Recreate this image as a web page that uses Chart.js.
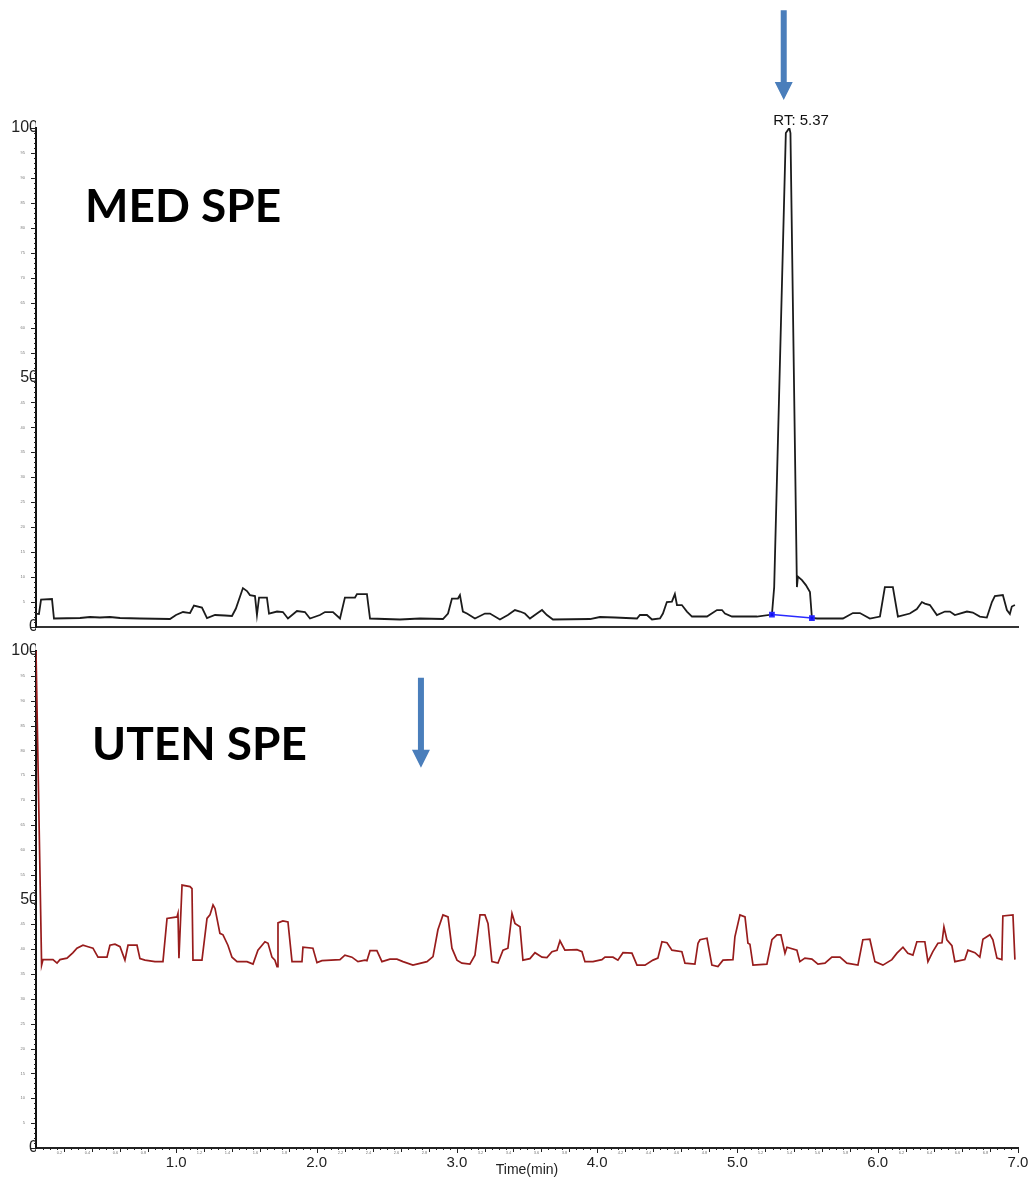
<!DOCTYPE html>
<html lang="no">
<head>
<meta charset="UTF-8">
<title>MED SPE / UTEN SPE</title>
<style>
  body { margin: 0; background: #fff; }
  #wrap { position: relative; width: 1035px; height: 1185px; }
  #med { position: absolute; left: 0; top: 0; }
  #uten { position: absolute; left: 0; top: 640px; }
</style>
</head>
<body>
<div id="wrap">
  <canvas id="med" width="1035" height="640"></canvas>
  <canvas id="uten" width="1035" height="545"></canvas>
</div>
<script src="https://cdn.jsdelivr.net/npm/chart.js"></script>
<script>
// retention time (min) / relative abundance (%) -- with SPE clean-up
const medTimes = [
  0.000, 0.021, 0.036, 0.114, 0.128, 0.314, 0.385, 0.456, 0.527, 0.599,
  0.741, 0.955, 0.998, 1.048, 1.098, 1.126, 1.183, 1.219, 1.276, 1.347,
  1.397, 1.425, 1.475, 1.504, 1.525, 1.561, 1.575, 1.590, 1.646, 1.661,
  1.718, 1.760, 1.796, 1.860, 1.917, 1.953, 2.024, 2.060, 2.117, 2.167,
  2.202, 2.274, 2.288, 2.359, 2.381, 2.594, 2.737, 2.901, 2.937, 2.965,
  3.008, 3.022, 3.043, 3.072, 3.129, 3.200, 3.236, 3.307, 3.364, 3.414,
  3.450, 3.485, 3.521, 3.571, 3.607, 3.642, 3.685, 3.949, 4.020, 4.127,
  4.284, 4.305, 4.355, 4.391, 4.448, 4.469, 4.497, 4.533, 4.554, 4.569,
  4.604, 4.640, 4.676, 4.783, 4.854, 4.890, 4.911, 4.961, 5.139, 5.246,
  5.262, 5.345, 5.370, 5.378, 5.424, 5.431, 5.460, 5.488, 5.517, 5.531,
  5.567, 5.752, 5.823, 5.873, 5.944, 6.016, 6.051, 6.108, 6.144, 6.229,
  6.279, 6.315, 6.336, 6.372, 6.422, 6.479, 6.515, 6.550, 6.636, 6.678,
  6.728, 6.778, 6.814, 6.835, 6.892, 6.921, 6.942, 6.956, 6.978
];
const medSignal = [
  2.7, 2.6, 5.5, 5.6, 1.7, 1.8, 2.0, 1.9, 2.0, 1.8,
  1.7, 1.6, 2.4, 3.0, 2.8, 4.3, 3.9, 1.8, 2.4, 2.3,
  2.2, 3.7, 7.8, 7.2, 6.4, 6.2, 2.4, 5.9, 5.9, 2.7,
  3.1, 3.0, 1.7, 3.2, 3.0, 1.7, 2.4, 3.0, 3.0, 1.7,
  5.9, 5.9, 6.6, 6.6, 1.7, 1.5, 1.7, 1.6, 2.7, 5.7,
  5.7, 6.4, 3.1, 2.7, 1.7, 2.7, 2.7, 1.5, 2.4, 3.4,
  3.1, 2.7, 1.7, 2.7, 3.4, 2.4, 1.5, 1.6, 2.0, 1.9,
  1.7, 2.4, 2.4, 1.5, 1.7, 2.7, 5.0, 5.1, 6.6, 4.4,
  4.4, 3.1, 2.1, 2.1, 3.4, 3.4, 2.7, 2.1, 2.1, 2.5,
  8.0, 99.0, 100, 99.0, 8.0, 10.1, 9.4, 8.4, 7.0, 1.8,
  1.7, 1.7, 2.8, 2.8, 1.7, 2.1, 8.0, 8.0, 2.1, 2.7,
  3.6, 5.0, 4.7, 4.4, 2.4, 3.1, 3.1, 2.4, 3.1, 2.9,
  2.1, 1.9, 5.0, 6.2, 6.4, 3.4, 2.6, 4.1, 4.4
];
// integration baseline under the peak
const baseTimes = [5.246, 5.531];
const baseSignal = [2.5, 1.8];
const peakTime = 5.37;
const peakLabel = 'RT: 5.37';

// without SPE
const utenTimes = [
  0.000, 0.040, 0.050, 0.121, 0.150, 0.171, 0.221, 0.264, 0.292, 0.335,
  0.371, 0.406, 0.442, 0.506, 0.527, 0.563, 0.599, 0.634, 0.656, 0.720,
  0.741, 0.777, 0.848, 0.905, 0.934, 1.005, 1.012, 1.019, 1.041, 1.098,
  1.112, 1.119, 1.183, 1.219, 1.240, 1.262, 1.276, 1.311, 1.333, 1.368,
  1.397, 1.433, 1.504, 1.547, 1.582, 1.632, 1.654, 1.682, 1.703, 1.718,
  1.725, 1.760, 1.796, 1.825, 1.896, 1.903, 1.974, 2.003, 2.038, 2.167,
  2.202, 2.252, 2.295, 2.345, 2.359, 2.381, 2.430, 2.466, 2.523, 2.573,
  2.616, 2.687, 2.787, 2.830, 2.865, 2.901, 2.937, 2.965, 3.001, 3.036,
  3.093, 3.129, 3.165, 3.200, 3.222, 3.250, 3.293, 3.329, 3.364, 3.393,
  3.414, 3.450, 3.471, 3.521, 3.557, 3.607, 3.642, 3.678, 3.714, 3.735,
  3.770, 3.856, 3.892, 3.913, 3.970, 4.034, 4.056, 4.113, 4.148, 4.184,
  4.248, 4.284, 4.341, 4.398, 4.433, 4.462, 4.498, 4.533, 4.604, 4.626,
  4.697, 4.719, 4.733, 4.783, 4.818, 4.861, 4.897, 4.968, 4.982, 5.018,
  5.054, 5.075, 5.089, 5.111, 5.210, 5.246, 5.282, 5.310, 5.339, 5.353,
  5.424, 5.445, 5.481, 5.531, 5.574, 5.624, 5.673, 5.731, 5.780, 5.859,
  5.894, 5.944, 5.980, 6.037, 6.101, 6.137, 6.180, 6.215, 6.251, 6.279,
  6.336, 6.358, 6.393, 6.429, 6.458, 6.472, 6.493, 6.529, 6.550, 6.621,
  6.643, 6.693, 6.728, 6.750, 6.800, 6.821, 6.850, 6.885, 6.892, 6.964,
  6.978
];
const utenSignal = [
  100, 36.8, 37.9, 37.9, 37.2, 37.9, 38.2, 39.3, 40.2, 40.8,
  40.5, 40.2, 38.4, 38.4, 40.8, 41.0, 40.5, 37.8, 40.8, 40.8,
  38.1, 37.8, 37.5, 37.5, 46.2, 46.5, 47.2, 38.2, 52.9, 52.6,
  52.2, 37.8, 37.8, 46.2, 46.9, 48.9, 48.2, 43.2, 42.9, 40.8,
  38.4, 37.5, 37.5, 37.0, 39.8, 41.5, 41.2, 38.4, 37.8, 36.5,
  45.3, 45.7, 45.5, 37.5, 37.5, 40.4, 40.2, 37.3, 37.7, 37.9,
  38.8, 38.4, 37.5, 37.8, 37.7, 39.7, 39.7, 37.5, 38.0, 38.0,
  37.5, 36.8, 37.5, 38.5, 43.9, 46.9, 46.5, 40.2, 37.8, 37.2,
  37.0, 38.8, 46.9, 46.9, 45.2, 37.5, 37.2, 39.8, 40.2, 47.2,
  45.2, 44.5, 37.8, 38.1, 39.3, 38.4, 38.3, 39.5, 39.8, 41.7,
  39.8, 39.9, 39.5, 37.5, 37.5, 37.9, 38.4, 38.4, 37.8, 39.3,
  39.2, 36.8, 36.8, 37.8, 38.2, 41.5, 41.3, 39.8, 39.5, 37.2,
  37.0, 41.2, 41.9, 42.2, 36.8, 36.5, 37.8, 37.9, 42.5, 46.9,
  46.5, 41.2, 41.0, 36.8, 37.0, 41.9, 42.9, 42.9, 39.2, 40.4,
  39.8, 37.5, 38.2, 38.0, 37.0, 37.2, 38.4, 38.4, 37.2, 36.8,
  41.9, 42.0, 37.5, 36.8, 37.9, 39.2, 40.4, 39.2, 38.8, 41.5,
  41.5, 37.5, 39.5, 41.2, 41.3, 44.5, 41.9, 40.7, 37.5, 37.9,
  39.8, 39.3, 38.4, 42.0, 42.9, 41.9, 38.2, 37.9, 46.7, 46.9,
  37.9
];

const yLabels = [0, 50, 100];
const timeLabels = [1, 2, 3, 4, 5, 6, 7];

Chart.defaults.font.family = '"Liberation Sans", Arial, sans-serif';
Chart.defaults.color = '#222';

const toPoints = (ts, vs) => ts.map((t, i) => ({ x: t, y: vs[i] }));

function drawArrow(ctx, px, yTop, yTip) {
  const headLen = 18, headHalf = 9, shaftHalf = 3;
  ctx.fillStyle = '#4a7ebb';
  ctx.beginPath();
  ctx.moveTo(px - shaftHalf, yTop);
  ctx.lineTo(px + shaftHalf, yTop);
  ctx.lineTo(px + shaftHalf, yTip - headLen);
  ctx.lineTo(px + headHalf, yTip - headLen);
  ctx.lineTo(px, yTip);
  ctx.lineTo(px - headHalf, yTip - headLen);
  ctx.lineTo(px - shaftHalf, yTip - headLen);
  ctx.closePath();
  ctx.fill();
}

// rulers, heading, arrow and peak label
const traceMarks = {
  id: 'traceMarks',
  afterDraw(chart, args, o) {
    const { ctx, chartArea: area, scales: { x, y } } = chart;
    ctx.save();
    ctx.strokeStyle = '#222';
    ctx.lineWidth = 1;
    for (let v = 0; v <= 100; v++) {
      const py = Math.round(y.getPixelForValue(v)) + 0.5;
      const len = v % 5 ? 2 : 5;
      ctx.beginPath();
      ctx.moveTo(area.left - len, py);
      ctx.lineTo(area.left, py);
      ctx.stroke();
    }
    ctx.fillStyle = '#777';
    ctx.font = '4px "Liberation Sans"';
    ctx.textAlign = 'right';
    ctx.textBaseline = 'middle';
    for (let v = 5; v < 100; v += 5) {
      if (v !== 50) ctx.fillText(String(v), area.left - 11, y.getPixelForValue(v));
    }

    if (o.timeRuler) {
      ctx.textAlign = 'center';
      ctx.textBaseline = 'top';
      for (let i = 1; i <= 140; i++) {
        const px = Math.round(x.getPixelForValue(i / 20)) + 0.5;
        const len = i % 20 === 0 ? 5 : (i % 4 === 0 ? 4 : 2);
        ctx.beginPath();
        ctx.moveTo(px, area.bottom);
        ctx.lineTo(px, area.bottom + len);
        ctx.stroke();
        if (i % 4 === 0 && i % 20 !== 0) {
          ctx.fillText((i / 20).toFixed(1), px - 5, area.bottom + 3);
        }
      }
    }

    ctx.fillStyle = '#000';
    ctx.font = 'bold 46px Lato, "Open Sans", sans-serif';
    ctx.textAlign = 'left';
    ctx.textBaseline = 'alphabetic';
    ctx.fillText(o.heading, area.left + o.headingDx, area.top + o.headingDy);

    const a = o.arrow;
    drawArrow(ctx, x.getPixelForValue(a.t), y.getPixelForValue(a.from), y.getPixelForValue(a.to));

    if (o.peak) {
      ctx.fillStyle = '#111';
      ctx.font = '15px "Liberation Sans", Arial, sans-serif';
      ctx.textAlign = 'left';
      ctx.fillText(o.peak.text, x.getPixelForValue(o.peak.t) - 16, y.getPixelForValue(o.peak.v) - 3);
    }
    ctx.restore();
  }
};

function yScale() {
  return {
    min: 0,
    max: 100,
    afterBuildTicks: s => { s.ticks = yLabels.map(v => ({ value: v })); },
    ticks: { padding: -2, font: { size: 16 }, color: '#222' },
    grid: { display: false, drawTicks: false },
    border: { color: '#111', width: 2 },
    afterFit: s => { s.width = 36; }
  };
}

new Chart(document.getElementById('med'), {
  type: 'line',
  data: {
    datasets: [
      {
        data: toPoints(baseTimes, baseSignal),
        borderColor: '#2a2aff',
        backgroundColor: '#1010ee',
        borderWidth: 1.5,
        pointStyle: 'rect',
        pointRadius: 3,
        order: 0
      },
      {
        data: toPoints(medTimes, medSignal),
        borderColor: '#1b1b1b',
        borderWidth: 1.8,
        pointRadius: 0,
        tension: 0,
        order: 1
      }
    ]
  },
  options: {
    responsive: false,
    animation: false,
    layout: { padding: { top: 128, right: 17, bottom: 13, left: 0 } },
    plugins: {
      legend: { display: false },
      tooltip: { enabled: false },
      traceMarks: {
        heading: 'MED SPE', headingDx: 49, headingDy: 94,
        arrow: { t: 5.33, from: 123.6, to: 105.6 },
        peak: { t: peakTime, v: 100, text: peakLabel }
      }
    },
    scales: {
      x: {
        type: 'linear', min: 0, max: 7,
        ticks: { display: false },
        grid: { display: false, drawTicks: false },
        border: { color: '#333', width: 2 },
        afterFit: s => { s.height = 0; }
      },
      y: yScale()
    }
  },
  plugins: [traceMarks]
});

new Chart(document.getElementById('uten'), {
  type: 'line',
  data: {
    datasets: [{
      data: toPoints(utenTimes, utenSignal),
      borderColor: '#981c1c',
      borderWidth: 1.7,
      pointRadius: 0,
      tension: 0
    }]
  },
  options: {
    responsive: false,
    animation: false,
    layout: { padding: { top: 11, right: 17, bottom: 0, left: 0 } },
    plugins: {
      legend: { display: false },
      tooltip: { enabled: false },
      traceMarks: {
        heading: 'UTEN SPE', headingDx: 56, headingDy: 109,
        arrow: { t: 2.744, from: 94.6, to: 76.5 },
        timeRuler: true
      }
    },
    scales: {
      x: {
        type: 'linear', min: 0, max: 7,
        afterBuildTicks: s => { s.ticks = timeLabels.map(v => ({ value: v })); },
        ticks: {
          callback: v => v.toFixed(1),
          padding: 6, autoSkip: false, maxRotation: 0,
          font: { size: 15 }, color: '#222'
        },
        grid: { display: false, drawTicks: false },
        border: { color: '#222', width: 2 },
        title: { display: true, text: 'Time(min)', font: { size: 14 }, color: '#222', padding: { top: 0, bottom: 6 } },
        afterFit: s => { s.height = 37; }
      },
      y: yScale()
    }
  },
  plugins: [traceMarks]
});
</script>
</body>
</html>
